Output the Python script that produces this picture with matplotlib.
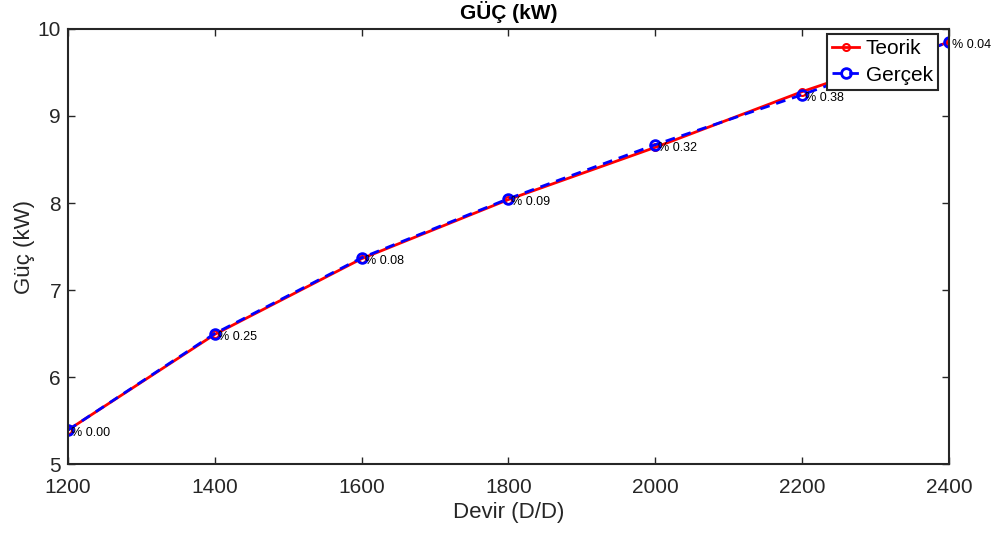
import matplotlib.pyplot as plt

plt.rcParams['font.family'] = ['Liberation Sans', 'DejaVu Sans']

# ------------------ Data ------------------
devir = [1200, 1400, 1600, 1800, 2000, 2200, 2400]
teorik = [5.39, 6.49, 7.36, 8.04, 8.64, 9.28, 9.85]
gercek = [5.39, 6.50, 7.37, 8.05, 8.67, 9.245, 9.85]
hata = ["% 0.00", "% 0.25", "% 0.08", "% 0.09", "% 0.32", "% 0.38", "% 0.04"]

koyu = '#262626'

# ------------------ Plot ------------------
fig = plt.figure(figsize=(9.95, 5.35), dpi=100)
ax = fig.add_axes([0.0683, 0.1327, 0.8855, 0.8131])

ax.plot(devir, teorik, color='red', lw=2, marker='o', ms=5, mfc='none',
        mew=1.5, label='Teorik')
ax.plot(devir, gercek, color='blue', lw=2, ls='--', dashes=(3.5, 2.5), marker='o',
        ms=7, mfc='none', mew=2, label='Gerçek')

for x, y, t in zip(devir, gercek, hata):
    ax.text(x + 4, y - 0.035, t, fontsize=9, va='center', ha='left', color='black')

ax.set_xlim(1200, 2400)
ax.set_ylim(5, 10)
ax.set_xticks(range(1200, 2401, 200))
ax.set_yticks(range(5, 11))
ax.tick_params(direction='in', labelsize=15, length=5, width=1, top=True, right=True,
               labeltop=False, labelright=False, colors=koyu)
ax.tick_params(axis='x', pad=10)
ax.tick_params(axis='y', pad=5)
for s in ax.spines.values():
    s.set_linewidth(1.5)
    s.set_color(koyu)

ax.set_title('GÜÇ (kW)', fontsize=15, fontweight='bold', pad=7, color='black')
ax.set_xlabel('Devir (D/D)', fontsize=16, labelpad=4, color=koyu)
ax.set_ylabel('Güç (kW)', fontsize=16, labelpad=2, color=koyu)

leg = ax.legend(loc='upper right', bbox_to_anchor=(0.9875, 0.988), fontsize=15,
                fancybox=False, framealpha=1, edgecolor=koyu, borderpad=0.25,
                handlelength=1.3, handletextpad=0.3, labelspacing=0.35, borderaxespad=0)
leg.get_frame().set_linewidth(1.5)

plt.savefig('out.png', dpi=100)
